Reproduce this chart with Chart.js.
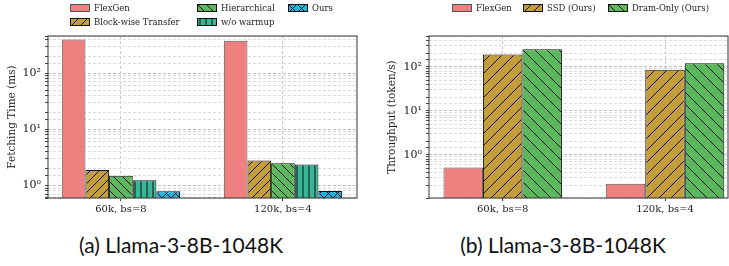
<!DOCTYPE html>
<html>
<head>
<meta charset="utf-8">
<script src="https://cdn.jsdelivr.net/npm/chart.js@4"></script>
<style>
  body { margin: 0; background: #fff; width: 729px; height: 266px; position: relative; overflow: hidden; }
  .panel { position: absolute; top: 0; height: 215px; }
  .legend-item { position: absolute; font-family: 'DejaVu Serif', serif; font-size: 8.5px; color: #222; white-space: nowrap; line-height: 10px; }
  .legend-item canvas { position: absolute; left: 0; top: 1px; }
  .legend-item span { position: absolute; white-space: nowrap; }
  .caption { position: absolute; top: 232px; font-family: Lato, sans-serif; font-size: 21px; color: #111; white-space: nowrap; transform: translateX(-50%); }
</style>
</head>
<body>
<div class="panel" style="left:0;width:365px"><canvas id="fetchChart" width="365" height="215"></canvas></div>
<div class="panel" style="left:365px;width:364px"><canvas id="tputChart" width="364" height="215"></canvas></div>
<div id="legendLeft"></div>
<div id="legendRight"></div>
<div class="caption" style="left:181px">(a) Llama-3-8B-1048K</div>
<div class="caption" style="left:563px">(b) Llama-3-8B-1048K</div>

<script>
// data
const categories = ['60k, bs=8', '120k, bs=4'];

// (a) fetching time, ms
const fetchFlexGen = [400, 380];
const fetchBlockwise = [1.9, 2.8];
const fetchHierarchical = [1.5, 2.5];
const fetchNoWarmup = [1.24, 2.37];
const fetchOurs = [0.79, 0.8];

// (b) throughput, token/s
const tputFlexGen = [0.52, 0.22];
const tputSSD = [192, 86];
const tputDram = [252, 121];

const superscripts = { '-1': '⁻¹', '0': '⁰', '1': '¹', '2': '²', '3': '³' };

Chart.defaults.font.family = "'DejaVu Serif', serif";
Chart.defaults.color = '#222';
Chart.defaults.animation = false;

// hatch patterns like matplotlib's '/', '\\', '|', 'x'
function makeFill(color, hatch, size) {
    if (!hatch) return color;
    if (hatch === '|') size = 6;
    const tile = document.createElement('canvas');
    tile.width = size;
    tile.height = size;
    const c = tile.getContext('2d');
    c.fillStyle = color;
    c.fillRect(0, 0, size, size);
    c.strokeStyle = '#111';
    c.lineWidth = 1;
    c.beginPath();
    if (hatch === '/' || hatch === 'x') {
        c.moveTo(-1, size + 1); c.lineTo(size + 1, -1);
        c.moveTo(-1, 1); c.lineTo(1, -1);
        c.moveTo(size - 1, size + 1); c.lineTo(size + 1, size - 1);
    }
    if (hatch === '\\' || hatch === 'x') {
        c.moveTo(-1, -1); c.lineTo(size + 1, size + 1);
        c.moveTo(size - 1, -1); c.lineTo(size + 1, 1);
        c.moveTo(-1, size - 1); c.lineTo(1, size + 1);
    }
    if (hatch === '|') {
        c.moveTo(size / 2, 0); c.lineTo(size / 2, size);
    }
    c.stroke();
    return c.createPattern(tile, 'repeat');
}

const styles = {
    flexgen: { color: '#f08080', hatch: null, edge: '#555' },
    blockwise: { color: '#c49e3a', hatch: '/', edge: '#111' },
    hierarchical: { color: '#5cb85c', hatch: '\\', edge: '#111' },
    nowarmup: { color: '#39b696', hatch: '|', edge: '#111' },
    ours: { color: '#22b4e0', hatch: 'x', edge: '#111' }
};

function dataset(label, values, style, hatchSize) {
    return {
        label: label,
        data: values.map((v, i) => ({ x: i, y: v })),
        backgroundColor: makeFill(style.color, style.hatch, hatchSize),
        borderColor: style.edge,
        borderWidth: 1,
        borderSkipped: 'bottom'
    };
}

// full box around the plot area
const framePlugin = {
    id: 'frame',
    afterDraw(chart) {
        const { ctx, chartArea: a } = chart;
        ctx.save();
        ctx.strokeStyle = '#333';
        ctx.lineWidth = 1;
        ctx.strokeRect(a.left, a.top, a.right - a.left, a.bottom - a.top);
        ctx.restore();
    }
};

function isPow10(v) {
    const l = Math.log10(v);
    return Math.abs(l - Math.round(l)) < 1e-9;
}

function buildChart(id, datasets, opts) {
    return new Chart(document.getElementById(id), {
        type: 'bar',
        data: { datasets: datasets },
        plugins: [framePlugin],
        options: {
            responsive: false,
            layout: { padding: { top: 36, right: opts.padRight, bottom: 0, left: 0 } },
            plugins: { legend: { display: false }, tooltip: { enabled: false } },
            datasets: { bar: { categoryPercentage: opts.groupWidth, barPercentage: 1 } },
            scales: {
                x: {
                    type: 'linear',
                    offset: false,
                    min: opts.xMin,
                    max: opts.xMax,
                    afterBuildTicks: axis => { axis.ticks = categories.map((c, i) => ({ value: i })); },
                    afterFit: axis => { axis.height = 17; },
                    ticks: {
                        callback: v => categories[v] ?? '',
                        font: { size: 10 },
                        padding: 2,
                        maxRotation: 0
                    },
                    grid: { offset: false, color: '#c8c8c8', tickColor: '#333', tickLength: 3 },
                    border: { display: false, dash: [3, 2] }
                },
                y: {
                    type: 'logarithmic',
                    min: opts.yMin,
                    max: opts.yMax,
                    afterFit: axis => { axis.width = opts.yWidth; },
                    title: {
                        display: true,
                        text: opts.yTitle,
                        font: { size: 10.5 },
                        padding: { top: opts.titlePad, bottom: 0 }
                    },
                    ticks: {
                        autoSkip: false,
                        font: { size: 11 },
                        padding: 4,
                        callback: v => isPow10(v) ? '10' + superscripts[String(Math.round(Math.log10(v)))] : ''
                    },
                    grid: {
                        color: ctx => isPow10(ctx.tick.value) ? '#c0c0c0' : '#dcdcdc',
                        tickColor: '#444',
                        tickLength: 3
                    },
                    border: { display: false, dash: [3, 2] }
                }
            }
        }
    });
}

buildChart('fetchChart', [
    dataset('FlexGen', fetchFlexGen, styles.flexgen, 9),
    dataset('Block-wise Transfer', fetchBlockwise, styles.blockwise, 9),
    dataset('Hierarchical', fetchHierarchical, styles.hierarchical, 9),
    dataset('w/o warmup', fetchNoWarmup, styles.nowarmup, 9),
    dataset('Ours', fetchOurs, styles.ours, 9)
], {
    padRight: 8, yWidth: 48, xMin: -0.45, xMax: 1.457, groupWidth: 0.73,
    yMin: 0.61, yMax: 460, yTitle: 'Fetching Time (ms)', titlePad: 6
});

buildChart('tputChart', [
    dataset('FlexGen', tputFlexGen, styles.flexgen, 12),
    dataset('SSD (Ours)', tputSSD, styles.blockwise, 12),
    dataset('Dram-Only (Ours)', tputDram, styles.hierarchical, 12)
], {
    padRight: 1, yWidth: 64, xMin: -0.454, xMax: 1.388, groupWidth: 0.73,
    yMin: 0.105, yMax: 505, yTitle: 'Throughput (token/s)', titlePad: 21
});

// legends, matplotlib style with hatched swatches
function addLegend(containerId, items) {
    const box = document.getElementById(containerId);
    items.forEach(item => {
        const el = document.createElement('div');
        el.className = 'legend-item';
        el.style.left = item.x + 'px';
        el.style.top = item.y + 'px';
        const sw = document.createElement('canvas');
        sw.width = 20;
        sw.height = 8;
        const c = sw.getContext('2d');
        c.fillStyle = makeFill(item.style.color, item.style.hatch, 9);
        c.fillRect(0, 0, 20, 8);
        c.strokeStyle = item.style.edge;
        c.lineWidth = 1;
        c.strokeRect(0.5, 0.5, 19, 7);
        el.appendChild(sw);
        const txt = document.createElement('span');
        txt.textContent = item.label;
        txt.style.left = '24px';
        el.appendChild(txt);
        box.appendChild(el);
    });
}

addLegend('legendLeft', [
    { label: 'FlexGen', style: styles.flexgen, x: 70, y: 3 },
    { label: 'Block-wise Transfer', style: styles.blockwise, x: 70, y: 17 },
    { label: 'Hierarchical', style: styles.hierarchical, x: 197, y: 3 },
    { label: 'w/o warmup', style: styles.nowarmup, x: 197, y: 17 },
    { label: 'Ours', style: styles.ours, x: 288, y: 3 }
]);

addLegend('legendRight', [
    { label: 'FlexGen', style: styles.flexgen, x: 452, y: 3 },
    { label: 'SSD (Ours)', style: styles.blockwise, x: 523, y: 3 },
    { label: 'Dram-Only (Ours)', style: styles.hierarchical, x: 608, y: 3 }
]);
</script>
</body>
</html>
